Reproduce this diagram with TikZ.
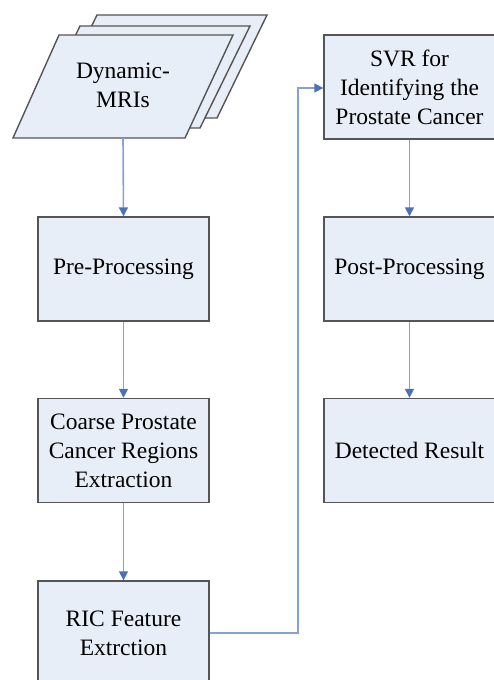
\documentclass[tikz,border=0pt]{standalone}
\usepackage{fontspec}
\setmainfont{Liberation Serif}
\usetikzlibrary{arrows.meta}
\definecolor{boxfill}{HTML}{E8EEF7}
\definecolor{boxline}{HTML}{555555}
\definecolor{conn}{HTML}{86A2D4}
\definecolor{tipcol}{HTML}{4A72B8}
\begin{document}
\begin{tikzpicture}[x=1pt,y=-1pt,
  stepbox/.style={draw=boxline,line width=1.4pt,fill=boxfill,minimum width=171pt,minimum height=104pt,inner sep=0pt,align=center,font=\fontsize{23.5}{29}\selectfont},
  stack/.style={draw=boxline,line width=1.4pt,fill=boxfill,line join=miter},
  flow/.style={draw=conn,line width=1.6pt,-{Triangle[length=9pt,width=9pt,fill=tipcol,color=tipcol]}}]
\useasboundingbox (0,0) rectangle (493,680);
% stacked parallelograms
\path[stack] (47,118) -- (97,15) -- (267,15) -- (217,118) -- cycle;
\path[stack] (30,128) -- (80,26) -- (250,26) -- (200,128) -- cycle;
\path[stack] (13,138) -- (59,35) -- (233,35) -- (185,138) -- cycle;
\node[align=center,font=\fontsize{23.5}{29}\selectfont] (dyn) at (123,85) {Dynamic-\\MRIs};
\coordinate (dynb) at (123,138);
% boxes
\node[stepbox] (pre) at (123.5,269) {Pre-Processing};
\node[stepbox] (coarse) at (123.5,450.5) {Coarse Prostate\\Cancer Regions\\Extraction};
\node[stepbox] (ric) at (123.5,633) {RIC Feature\\Extrction};
\node[stepbox] (svr) at (409.5,87) {SVR for\\Identifying the\\Prostate Cancer};
\node[stepbox] (post) at (409.5,269) {Post-Processing};
\node[stepbox] (det) at (409.5,450.5) {Detected Result};
% connectors
\draw[flow] (dynb) -- (pre.north);
\draw[flow] (pre) -- (coarse);
\draw[flow] (coarse) -- (ric);
\draw[flow] (svr) -- (post);
\draw[flow] (post) -- (det);
\coordinate (bend1) at (298,633);
\coordinate (bend2) at (298,88);
\draw[flow] (ric.east) -- (bend1) -- (bend2) -- (svr.west |- bend2);
\end{tikzpicture}
\end{document}
